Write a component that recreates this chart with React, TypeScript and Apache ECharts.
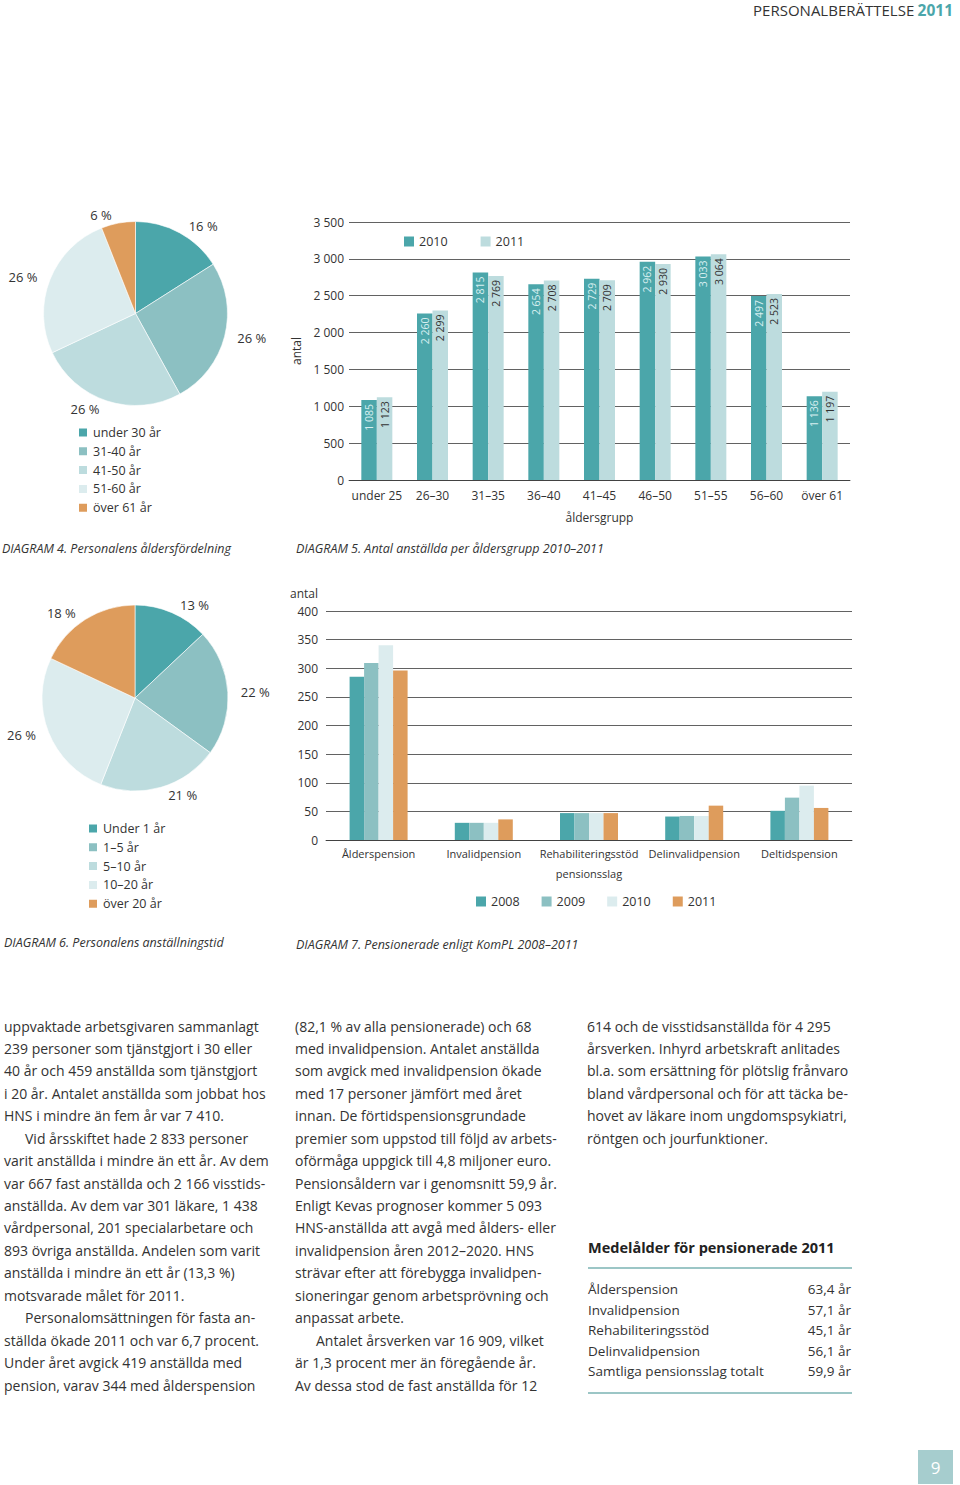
import React, { useEffect, useRef } from "react";
import * as echarts from "echarts";

// ---------- data ----------
const ageGroups = ["under 30 år", "31-40 år", "41-50 år", "51-60 år", "över 61 år"];
const agePct = [16, 26, 26, 26, 6];

const tenureGroups = ["Under 1 år", "1–5 år", "5–10 år", "10–20 år", "över 20 år"];
const tenurePct = [13, 22, 21, 26, 18];

const ageBands = ["under 25", "26–30", "31–35", "36–40", "41–45", "46–50", "51–55", "56–60", "över 61"];
const staff2010 = [1085, 2260, 2815, 2654, 2729, 2962, 3033, 2497, 1136];
const staff2011 = [1123, 2299, 2769, 2708, 2709, 2930, 3064, 2523, 1197];

const pensionTypes = ["Ålderspension", "Invalidpension", "Rehabiliteringsstöd", "Delinvalidpension", "Deltidspension"];
const pension2008 = [285, 30, 47, 41, 51];
const pension2009 = [309, 30, 47, 42, 74];
const pension2010 = [340, 30, 47, 42, 95];
const pension2011 = [296, 36, 47, 60, 56];

const avgAgeLabels = ["Ålderspension", "Invalidpension", "Rehabiliteringsstöd", "Delinvalidpension", "Samtliga pensionsslag totalt"];
const avgAgeValues = ["63,4 år", "57,1 år", "45,1 år", "56,1 år", "59,9 år"];

const captions = [
  "DIAGRAM 4. Personalens åldersfördelning",
  "DIAGRAM 5. Antal anställda per åldersgrupp 2010–2011",
  "DIAGRAM 6. Personalens anställningstid",
  "DIAGRAM 7. Pensionerade enligt KomPL 2008–2011",
];

const column1 = [
  [
    "uppvaktade arbetsgivaren sammanlagt",
    "239 personer som tjänstgjort i 30 eller",
    "40 år och 459 anställda som tjänstgjort",
    "i 20 år. Antalet anställda som jobbat hos",
    "HNS i mindre än fem år var 7 410.",
  ],
  [
    "Vid årsskiftet hade 2 833 personer",
    "varit anställda i mindre än ett år. Av dem",
    "var 667 fast anställda och 2 166 visstids-",
    "anställda. Av dem var 301 läkare, 1 438",
    "vårdpersonal, 201 specialarbetare och",
    "893 övriga anställda. Andelen som varit",
    "anställda i mindre än ett år (13,3 %)",
    "motsvarade målet för 2011.",
  ],
  [
    "Personalomsättningen för fasta an-",
    "ställda ökade 2011 och var 6,7 procent.",
    "Under året avgick 419 anställda med",
    "pension, varav 344 med ålderspension",
  ],
];
const column2 = [
  [
    "(82,1 % av alla pensionerade) och 68",
    "med invalidpension. Antalet anställda",
    "som avgick med invalidpension ökade",
    "med 17 personer jämfört med året",
    "innan. De förtidspensionsgrundade",
    "premier som uppstod till följd av arbets-",
    "oförmåga uppgick till 4,8 miljoner euro.",
    "Pensionsåldern var i genomsnitt 59,9 år.",
    "Enligt Kevas prognoser kommer 5 093",
    "HNS-anställda att avgå med ålders- eller",
    "invalidpension åren 2012–2020. HNS",
    "strävar efter att förebygga invalidpen-",
    "sioneringar genom arbetsprövning och",
    "anpassat arbete.",
  ],
  [
    "Antalet årsverken var 16 909, vilket",
    "är 1,3 procent mer än föregående år.",
    "Av dessa stod de fast anställda för 12",
  ],
];
const column3 = [
  [
    "614 och de visstidsanställda för 4 295",
    "årsverken. Inhyrd arbetskraft anlitades",
    "bl.a. som ersättning för plötslig frånvaro",
    "bland vårdpersonal och för att täcka be-",
    "hovet av läkare inom ungdomspsykiatri,",
    "röntgen och jourfunktioner.",
  ],
];

// ---------- styles ----------
const FONT = "'Open Sans', 'Noto Sans', sans-serif";
const TXT = "#333333";
const C1 = "#4ba6aa";
const C2 = "#8cc0c2";
const C3 = "#bddcde";
const C4 = "#dcecee";
const OR = "#de9c5c";
const pieColors = [C1, C2, C3, C4, OR];

const fmt = (n: number) => String(n).replace(/\B(?=(\d{3})+(?!\d))/g, " ");

function bodyText(cols: string[][], x: number, y0: number, lh: number) {
  const els: any[] = [];
  let i = 0;
  cols.forEach((para, pi) => {
    para.forEach((line, li) => {
      els.push({
        type: "text",
        x: x + (pi > 0 && li === 0 ? 21 : 0),
        y: y0 + i * lh,
        style: { text: line, font: `14px ${FONT}`, fill: TXT, verticalAlign: "middle" },
      });
      i++;
    });
  });
  return els;
}

export default function App() {
  const ref = useRef<HTMLDivElement>(null);
  useEffect(() => {
    document.body.style.margin = "0";
    const chart = echarts.init(ref.current!, null, { renderer: "svg" });

    const axisLabel = { color: TXT, fontFamily: FONT, fontSize: 12 };
    const splitLine = { show: true, lineStyle: { color: "#3a3a3a", width: 0.8 } };

    const barLabel = (color: string) => ({
      show: true,
      position: "insideTop",
      distance: 4,
      rotate: 90,
      align: "right",
      verticalAlign: "middle",
      color,
      fontFamily: FONT,
      fontSize: 10.5,
      formatter: (p: any) => fmt(p.value),
    });

    const pieLabel = {
      show: true,
      position: "outside",
      formatter: "{c} %",
      color: TXT,
      fontFamily: FONT,
      fontSize: 13,
      distanceToLabelLine: 5,
    };

    const graphic: any[] = [];
    graphic.push({
      type: "text",
      x: 953,
      y: 10,
      style: {
        text: "{a|PERSONALBERÄTTELSE} {b|2011}",
        align: "right",
        verticalAlign: "middle",
        rich: {
          a: { fontSize: 15, fill: TXT, fontFamily: FONT },
          b: { fontSize: 15.5, fill: C1, fontFamily: FONT, fontWeight: "bold" },
        },
      },
    });
    const capPos = [
      [2, 548],
      [296, 548],
      [4, 942],
      [296, 944],
    ];
    captions.forEach((c, i) =>
      graphic.push({
        type: "text",
        x: capPos[i][0],
        y: capPos[i][1],
        style: { text: c, font: `italic 12.5px ${FONT}`, fill: TXT, verticalAlign: "middle" },
      })
    );
    graphic.push(...bodyText(column1, 4, 1026, 22.44));
    graphic.push(...bodyText(column2, 295, 1026, 22.44));
    graphic.push(...bodyText(column3, 587, 1026, 22.44));

    // table
    graphic.push({
      type: "text",
      x: 588,
      y: 1247,
      style: { text: "Medelålder för pensionerade 2011", font: `bold 14.5px ${FONT}`, fill: "#222", verticalAlign: "middle" },
    });
    graphic.push({ type: "line", shape: { x1: 588, y1: 1268, x2: 852, y2: 1268 }, style: { stroke: "#9cc6c6", lineWidth: 2 } });
    graphic.push({ type: "line", shape: { x1: 588, y1: 1393, x2: 852, y2: 1393 }, style: { stroke: "#9cc6c6", lineWidth: 2 } });
    avgAgeLabels.forEach((l, i) => {
      graphic.push({
        type: "text",
        x: 588,
        y: 1289 + i * 20.6,
        style: { text: l, font: `13.5px ${FONT}`, fill: TXT, verticalAlign: "middle" },
      });
      graphic.push({
        type: "text",
        x: 851,
        y: 1289 + i * 20.6,
        style: { text: avgAgeValues[i], font: `13.5px ${FONT}`, fill: TXT, verticalAlign: "middle", align: "right" },
      });
    });

    // page number
    graphic.push({ type: "rect", shape: { x: 918, y: 1450, width: 35, height: 34 }, style: { fill: "#a6cdce" } });
    graphic.push({
      type: "text",
      x: 935.5,
      y: 1467,
      style: { text: "9", font: `17px ${FONT}`, fill: "#ffffff", align: "center", verticalAlign: "middle" },
    });

    const legendText = { color: TXT, fontFamily: FONT, fontSize: 12.5 };

    const option: any = {
      animation: false,
      backgroundColor: "#ffffff",
      textStyle: { fontFamily: FONT },
      grid: [
        { left: 349, top: 222, width: 501, height: 258 },
        { left: 326, top: 611, width: 526, height: 229 },
      ],
      xAxis: [
        {
          gridIndex: 0,
          type: "category",
          data: ageBands,
          axisTick: { show: false },
          axisLine: { lineStyle: { color: "#3a3a3a", width: 0.8 } },
          axisLabel: { ...axisLabel, margin: 9, interval: 0 },
          name: "åldersgrupp",
          nameLocation: "middle",
          nameGap: 31,
          nameTextStyle: { color: TXT, fontFamily: FONT, fontSize: 12 },
        },
        {
          gridIndex: 1,
          type: "category",
          data: pensionTypes,
          axisTick: { show: false },
          axisLine: { lineStyle: { color: "#3a3a3a", width: 0.8 } },
          axisLabel: { ...axisLabel, fontSize: 11, margin: 8, interval: 0 },
          name: "pensionsslag",
          nameLocation: "middle",
          nameGap: 28,
          nameTextStyle: { color: TXT, fontFamily: FONT, fontSize: 11 },
        },
      ],
      yAxis: [
        {
          gridIndex: 0,
          type: "value",
          min: 0,
          max: 3500,
          interval: 500,
          axisLine: { show: false },
          axisTick: { show: false },
          splitLine,
          axisLabel: { ...axisLabel, margin: 5, formatter: (v: number) => fmt(v) },
          name: "antal",
          nameLocation: "middle",
          nameGap: 41,
          nameRotate: 90,
          nameTextStyle: { color: TXT, fontFamily: FONT, fontSize: 12 },
        },
        {
          gridIndex: 1,
          type: "value",
          min: 0,
          max: 400,
          interval: 50,
          axisLine: { show: false },
          axisTick: { show: false },
          splitLine,
          axisLabel: { ...axisLabel, margin: 8 },
          name: "antal",
          nameLocation: "end",
          nameGap: 12,
          nameTextStyle: { color: TXT, fontFamily: FONT, fontSize: 12, align: "right", padding: [0, 8, 0, 0] },
        },
      ],
      legend: [
        {
          left: 72,
          top: 421,
          orient: "vertical",
          itemWidth: 10,
          itemHeight: 10,
          itemGap: 5.8,
          icon: "rect",
          textStyle: legendText,
          data: ageGroups,
        },
        {
          left: 82,
          top: 817,
          orient: "vertical",
          itemWidth: 10,
          itemHeight: 10,
          itemGap: 5.8,
          icon: "rect",
          textStyle: legendText,
          data: tenureGroups,
        },
        {
          left: 399,
          top: 230,
          itemWidth: 10,
          itemHeight: 10,
          itemGap: 33,
          icon: "rect",
          textStyle: legendText,
          data: [
            { name: "2010", itemStyle: { color: C1 } },
            { name: "2011", itemStyle: { color: C3 } },
          ],
        },
        {
          left: 471,
          top: 890,
          itemWidth: 10,
          itemHeight: 10,
          itemGap: 22,
          icon: "rect",
          textStyle: legendText,
          data: [
            { name: "2008", itemStyle: { color: C1 } },
            { name: "2009", itemStyle: { color: C2 } },
            { name: "2010", itemStyle: { color: C4 } },
            { name: "2011", itemStyle: { color: OR } },
          ],
        },
      ],
      series: [
        {
          type: "pie",
          center: [135.5, 313.5],
          radius: 92,
          startAngle: 90,
          avoidLabelOverlap: false,
          label: pieLabel,
          labelLine: { show: false, length: 8, length2: 0 },
          itemStyle: { borderColor: "#ffffff", borderWidth: 0.6 },
          data: ageGroups.map((n, i) => ({ name: n, value: agePct[i], itemStyle: { color: pieColors[i] } })),
        },
        {
          type: "pie",
          center: [135, 698],
          radius: 93,
          startAngle: 90,
          avoidLabelOverlap: false,
          label: pieLabel,
          labelLine: { show: false, length: 8, length2: 0 },
          itemStyle: { borderColor: "#ffffff", borderWidth: 0.6 },
          data: tenureGroups.map((n, i) => ({ name: n, value: tenurePct[i], itemStyle: { color: pieColors[i] } })),
        },
        {
          type: "bar",
          name: "2010",
          xAxisIndex: 0,
          yAxisIndex: 0,
          barWidth: 15.5,
          barGap: "0%",
          itemStyle: { color: C1 },
          label: barLabel("#d8eff0"),
          data: staff2010,
        },
        {
          type: "bar",
          name: "2011",
          xAxisIndex: 0,
          yAxisIndex: 0,
          barWidth: 15.5,
          barGap: "0%",
          itemStyle: { color: C3 },
          label: barLabel("#333333"),
          data: staff2011,
        },
        ...[
          ["2008", pension2008, C1],
          ["2009", pension2009, C2],
          ["2010", pension2010, C4],
          ["2011", pension2011, OR],
        ].map(([name, data, color]) => ({
          type: "bar",
          name,
          xAxisIndex: 1,
          yAxisIndex: 1,
          barWidth: 14.5,
          barGap: "0%",
          itemStyle: { color },
          data,
        })),
      ],
      graphic,
    };
    chart.setOption(option);
    return () => chart.dispose();
  }, []);
  return <div ref={ref} style={{ width: 960, height: 1485 }} />;
}
